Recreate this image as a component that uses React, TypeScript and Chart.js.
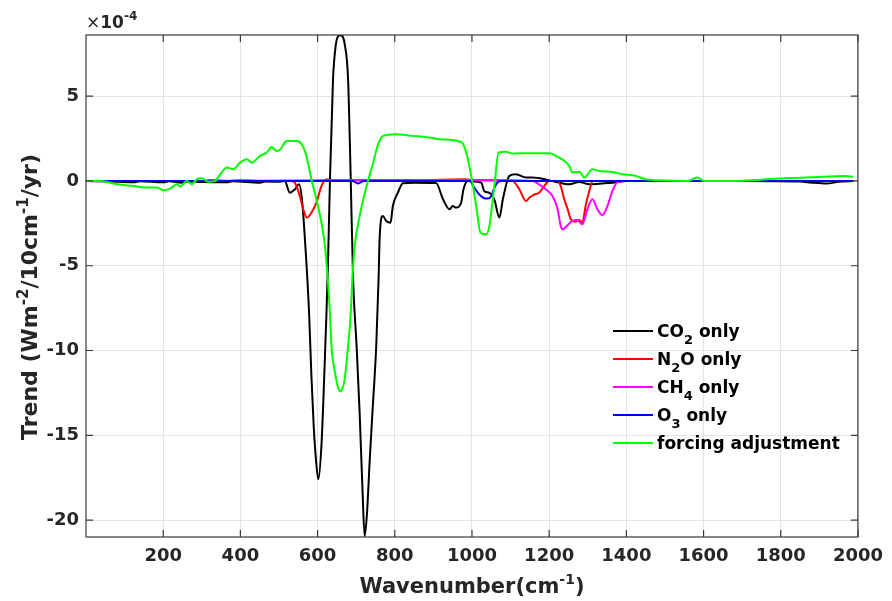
import React, { useEffect, useRef } from 'react';
import { Chart, registerables } from 'chart.js';

Chart.register(...registerables);

const FONT = '"DejaVu Sans", "Liberation Sans", sans-serif';
const TEXT = '#262626';

// ---------- data (trend values in units of 1e-4) ----------
const co2Wavenumber = [1, 60, 123, 140, 200, 215, 249, 265, 300, 365, 380, 451, 465, 503, 515, 528, 541, 552, 560, 566, 571, 578, 584, 590, 596, 602, 610, 617, 623, 627, 632, 640, 647, 652, 658, 664, 670, 679, 686, 692, 701, 709, 716, 722, 728, 735, 742, 752, 758, 761, 769, 778, 789, 795, 808, 821, 850, 907, 925, 942, 950, 959, 972, 978, 989, 1024, 1032, 1045, 1058, 1071, 1080, 1090, 1097, 1114, 1140, 1157, 1192, 1218, 1252, 1278, 1304, 1363, 1400, 1500, 1700, 1850, 1881, 1919, 1950, 1990];
const co2Trend = [0, -0.03, -0.08, -0.02, -0.08, -0.02, -0.1, -0.03, -0.06, -0.08, -0.02, -0.1, -0.03, -0.05, 0, -0.69, -0.5, -0.2, -1.2, -3.0, -4.8, -7.8, -11.5, -14.5, -16.5, -17.6, -15.6, -11.7, -7.8, -4.8, 0, 6.0, 8.0, 8.5, 8.6, 8.55, 8.1, 6.0, 0, -5.8, -9.7, -13.7, -18.0, -20.96, -19.6, -16.5, -13.7, -9.7, -5.8, -3.25, -2.07, -2.36, -2.46, -1.48, -0.69, -0.14, -0.1, -0.12, -1.08, -1.67, -1.48, -1.57, -1.28, -0.49, 0, -0.1, -0.6, -0.7, -1.1, -2.16, -1.08, -0.1, 0.3, 0.4, 0.2, 0.2, 0.08, -0.06, -0.2, -0.06, -0.2, -0.1, 0, 0, 0, -0.03, -0.1, -0.15, -0.05, 0];

const n2oWavenumber = [1, 300, 330, 345, 400, 470, 530, 541, 554, 563, 572, 584, 597, 610, 623, 640, 700, 760, 800, 985, 1000, 1105, 1123, 1140, 1149, 1161, 1174, 1187, 1200, 1222, 1230, 1239, 1248, 1256, 1267, 1278, 1286, 1295, 1305, 1313, 1400, 1990];
const n2oTrend = [0, 0, 0.06, 0, 0.04, 0, 0, -0.1, -0.9, -1.67, -2.16, -1.87, -1.28, -0.3, 0.1, 0.03, 0.03, 0.05, 0, 0.1, 0.05, 0, -0.5, -1.18, -0.98, -0.8, -0.7, -0.3, 0, 0, -0.3, -1.08, -1.67, -2.26, -2.4, -2.3, -2.45, -1.4, -0.5, 0, 0, 0];

const ch4Wavenumber = [1, 300, 335, 365, 700, 1000, 1157, 1174, 1192, 1209, 1222, 1230, 1235, 1248, 1260, 1270, 1278, 1286, 1299, 1312, 1325, 1338, 1351, 1364, 1377, 1400, 1990];
const ch4Trend = [0, 0, 0.05, 0, 0.05, 0.05, 0, -0.2, -0.5, -0.9, -1.67, -2.66, -2.85, -2.6, -2.36, -2.3, -2.4, -2.56, -1.67, -1.08, -1.67, -2.02, -1.48, -0.59, -0.06, 0, 0];

const o3Wavenumber = [1, 690, 705, 720, 994, 1006, 1019, 1032, 1041, 1050, 1058, 1067, 1075, 1988];
const o3Trend = [0, 0, -0.15, 0, 0, -0.4, -0.8, -1.02, -1.04, -0.88, -0.4, -0.06, 0, 0];

const adjWavenumber = [1, 37, 81, 124, 158, 184, 201, 218, 236, 244, 261, 274, 287, 300, 317, 335, 348, 365, 382, 399, 417, 430, 451, 468, 481, 494, 503, 515, 520, 546, 559, 571, 584, 597, 610, 619, 627, 632, 636, 645, 650, 655, 660, 665, 670, 679, 686, 690, 696, 709, 727, 744, 757, 770, 800, 847, 890, 916, 972, 985, 998, 1011, 1022, 1037, 1045, 1058, 1069, 1088, 1105, 1140, 1200, 1226, 1252, 1260, 1278, 1291, 1312, 1330, 1364, 1390, 1424, 1450, 1485, 1560, 1575, 1585, 1600, 1700, 1795, 1881, 1967, 1988];
const adjTrend = [0, 0, -0.2, -0.3, -0.39, -0.39, -0.55, -0.45, -0.2, -0.33, 0, -0.2, 0.1, 0.16, -0.04, 0, 0.4, 0.79, 0.69, 1.08, 1.28, 1.08, 1.48, 1.67, 2.0, 1.77, 1.85, 2.27, 2.36, 2.36, 2.17, 1.48, 0.1, -1.08, -2.46, -3.84, -6.0, -7.77, -9.74, -11.3, -11.9, -12.3, -12.4, -12.2, -11.7, -9.74, -7.77, -5.8, -3.84, -2.07, -0.3, 1.08, 2.17, 2.66, 2.76, 2.66, 2.56, 2.46, 2.3, 1.68, 0.3, -1.48, -3.05, -3.15, -2.66, -0.3, 1.68, 1.73, 1.62, 1.64, 1.64, 1.38, 0.89, 0.5, 0.55, 0.2, 0.69, 0.59, 0.53, 0.4, 0.3, 0.1, 0.04, 0, 0.15, 0.2, 0, 0.02, 0.14, 0.22, 0.3, 0.24];

const xTickValues = [200, 400, 600, 800, 1000, 1200, 1400, 1600, 1800, 2000];
const yTickValues = [-20, -15, -10, -5, 0, 5];

type Part = { t: string; s?: 'sub' | 'sup'; w?: string };

const legendEntries: { color: string; parts: Part[] }[] = [
  { color: '#000000', parts: [{ t: 'CO' }, { t: '2', s: 'sub' }, { t: ' only' }] },
  { color: '#ff0000', parts: [{ t: 'N' }, { t: '2', s: 'sub' }, { t: 'O only' }] },
  { color: '#ff00ff', parts: [{ t: 'CH' }, { t: '4', s: 'sub' }, { t: ' only' }] },
  { color: '#0000ff', parts: [{ t: 'O' }, { t: '3', s: 'sub' }, { t: ' only' }] },
  { color: '#00ff00', parts: [{ t: 'forcing adjustment' }] },
];

function toPoints(xs: number[], ys: number[]) {
  return xs.map((x, i) => ({ x, y: ys[i] }));
}

function richWidth(ctx: CanvasRenderingContext2D, parts: Part[], size: number, small: number) {
  let w = 0;
  for (const p of parts) {
    ctx.font = `${p.w || 'bold'} ${p.s ? small : size}px ${FONT}`;
    w += ctx.measureText(p.t).width;
  }
  return w;
}

function drawRich(ctx: CanvasRenderingContext2D, parts: Part[], x: number, y: number, size: number, small: number, subOff: number, supOff: number) {
  let cx = x;
  ctx.textBaseline = 'alphabetic';
  ctx.textAlign = 'left';
  for (const p of parts) {
    ctx.font = `${p.w || 'bold'} ${p.s ? small : size}px ${FONT}`;
    const dy = p.s === 'sub' ? subOff : p.s === 'sup' ? -supOff : 0;
    ctx.fillText(p.t, cx, y + dy);
    cx += ctx.measureText(p.t).width;
  }
}

const decorPlugin = {
  id: 'matlabDecor',
  afterDraw(chart: any) {
    const ctx: CanvasRenderingContext2D = chart.ctx;
    const { left, right, top, bottom } = chart.chartArea;
    const xs = chart.scales.x;
    const ys = chart.scales.y;
    ctx.save();
    // box
    ctx.strokeStyle = '#3a3a3a';
    ctx.lineWidth = 1.2;
    ctx.strokeRect(left, top, right - left, bottom - top);
    // inner tick marks
    const tl = 7;
    ctx.beginPath();
    for (const v of xTickValues) {
      const px = xs.getPixelForValue(v);
      ctx.moveTo(px, bottom); ctx.lineTo(px, bottom - tl);
      ctx.moveTo(px, top); ctx.lineTo(px, top + tl);
    }
    for (const v of yTickValues) {
      const py = ys.getPixelForValue(v);
      ctx.moveTo(left, py); ctx.lineTo(left + tl, py);
      ctx.moveTo(right, py); ctx.lineTo(right - tl, py);
    }
    ctx.stroke();

    ctx.fillStyle = TEXT;
    // exponent label
    drawRich(ctx, [{ t: '×', w: 'normal' }, { t: '10' }, { t: '-4', s: 'sup' }], left, 28, 17, 12, 0, 8);

    // x title
    const xParts: Part[] = [{ t: 'Wavenumber(cm' }, { t: '-1', s: 'sup' }, { t: ')' }];
    const xw = richWidth(ctx, xParts, 21, 14);
    drawRich(ctx, xParts, (left + right) / 2 - xw / 2, 593, 21, 14, 0, 9);

    // y title
    const yParts: Part[] = [{ t: 'Trend (Wm' }, { t: '-2', s: 'sup' }, { t: '/10cm' }, { t: '-1', s: 'sup' }, { t: '/yr)' }];
    const yw = richWidth(ctx, yParts, 22, 15);
    ctx.save();
    ctx.translate(29, 297);
    ctx.rotate(-Math.PI / 2);
    ctx.fillStyle = TEXT;
    drawRich(ctx, yParts, -yw / 2, 8, 22, 15, 0, 9);
    ctx.restore();

    // legend
    const lx0 = 613, lx1 = 653, tx = 657;
    const rowY = [331, 359, 387, 415, 443];
    legendEntries.forEach((e, i) => {
      const y = rowY[i];
      ctx.strokeStyle = e.color;
      ctx.lineWidth = 2;
      ctx.beginPath();
      ctx.moveTo(lx0, y); ctx.lineTo(lx1, y);
      ctx.stroke();
      ctx.fillStyle = '#000000';
      drawRich(ctx, e.parts, tx, y + 6, 17, 13, 7, 0);
    });
    ctx.restore();
  },
};

export default function App() {
  const ref = useRef<HTMLCanvasElement | null>(null);
  useEffect(() => {
    document.body.style.margin = '0';
    const canvas = ref.current;
    if (!canvas) return;
    const tickFont = { family: FONT, size: 18, weight: 'bold' as const };
    const mk = (label: string, color: string, xs: number[], ys: number[], order: number) => ({
      label,
      data: toPoints(xs, ys),
      borderColor: color,
      backgroundColor: color,
      borderWidth: 2,
      pointRadius: 0,
      cubicInterpolationMode: 'monotone' as const,
      fill: false,
      order,
    });
    const chart = new Chart(canvas, {
      type: 'line',
      data: {
        datasets: [
          mk('CO2 only', '#000000', co2Wavenumber, co2Trend, 5),
          mk('N2O only', '#ff0000', n2oWavenumber, n2oTrend, 4),
          mk('CH4 only', '#ff00ff', ch4Wavenumber, ch4Trend, 3),
          mk('O3 only', '#0000ff', o3Wavenumber, o3Trend, 2),
          mk('forcing adjustment', '#00ff00', adjWavenumber, adjTrend, 1),
        ],
      },
      options: {
        animation: false,
        responsive: false,
        maintainAspectRatio: false,
        devicePixelRatio: 1,
        layout: { padding: { left: 0, right: 33, top: 35, bottom: 0 } },
        plugins: { legend: { display: false }, tooltip: { enabled: false } },
        scales: {
          x: {
            type: 'linear',
            min: 0,
            max: 2000,
            afterBuildTicks: (s: any) => { s.ticks = xTickValues.map((v) => ({ value: v })); },
            afterFit: (s: any) => { s.height = 64; },
            ticks: { font: tickFont, color: TEXT, padding: 9, maxRotation: 0, autoSkip: false, callback: (v: any) => String(v) },
            grid: { color: '#e3e3e3', drawTicks: false, lineWidth: 1 },
            border: { display: false },
          },
          y: {
            type: 'linear',
            min: -21,
            max: 8.61,
            afterBuildTicks: (s: any) => { s.ticks = yTickValues.map((v) => ({ value: v })); },
            afterFit: (s: any) => { s.width = 86; },
            ticks: { font: tickFont, color: TEXT, padding: 7, autoSkip: false, callback: (v: any) => String(v) },
            grid: { color: '#e3e3e3', drawTicks: false, lineWidth: 1 },
            border: { display: false },
          },
        },
      },
      plugins: [decorPlugin],
    } as any);
    return () => chart.destroy();
  }, []);
  return (
    <div style={{ position: 'relative', width: 892, height: 601, background: '#fff' }}>
      <canvas ref={ref} width={892} height={601} style={{ display: 'block', width: 892, height: 601 }} />
    </div>
  );
}
